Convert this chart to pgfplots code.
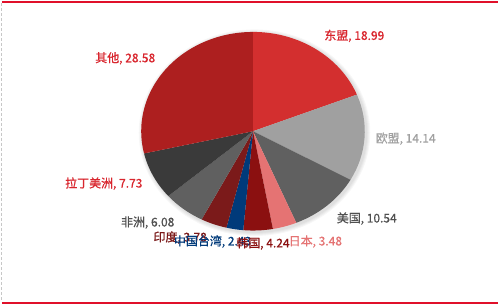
\documentclass[border=0pt]{standalone}
\usepackage{fontspec}
\setmainfont{Noto Sans CJK SC}
\newfontfamily\lab{Noto Sans CJK SC}[FakeBold=0.7]
\usepackage{pgfplots}
\pgfplotsset{compat=1.18}
\definecolor{cASEAN}{HTML}{D32F2F}
\definecolor{cEU}{HTML}{A0A0A0}
\definecolor{cUS}{HTML}{606060}
\definecolor{cJP}{HTML}{E57373}
\definecolor{cKR}{HTML}{8B1010}
\definecolor{cTW}{HTML}{003A7A}
\definecolor{cIN}{HTML}{7B1A1A}
\definecolor{cAF}{HTML}{606060}
\definecolor{cLA}{HTML}{3A3A3A}
\definecolor{cOT}{HTML}{AD1F1F}
\definecolor{lRed}{HTML}{D9262E}
\definecolor{lDark}{HTML}{505050}
\definecolor{frameRed}{HTML}{E0102A}
% slice: start (cumulative %), value (%), colour
\newcommand\slice[3]{%
  \fill[#3] (axis cs:253.5,173.5) --
    (axis cs:{253.5+112*cos(90-3.6*#1)},{173.5+99.5*sin(90-3.6*#1)})
    arc[start angle={90-3.6*#1}, delta angle={-3.6*#2}, x radius=112pt, y radius=99.5pt] -- cycle;}
\newcommand\shadow[1]{%
  \fill[black, opacity=0.03] (axis cs:255,172) ellipse [x radius=#1pt, y radius=#1pt-12.5pt];}
\begin{document}
\begin{tikzpicture}
\begin{axis}[x=1pt, y=1pt, xmin=0, xmax=499, ymin=0, ymax=305,
  hide axis, clip=false, scale only axis]
\fill[white] (axis cs:0,0) rectangle (axis cs:499,305);
% frame
\draw[frameRed, line width=2pt] (axis cs:2,303) -- (axis cs:499,303);
\draw[frameRed, line width=2pt] (axis cs:2,1.7) -- (axis cs:499,1.7);
\draw[black!22, line width=1pt, dash pattern=on 3pt off 2pt] (axis cs:1.5,302) -- (axis cs:1.5,3);
% soft shadow
\shadow{116}
\shadow{115}
\shadow{114}
\shadow{113}
% slices (values in %)
\slice{0}{18.99}{cASEAN}
\slice{18.99}{14.14}{cEU}
\slice{33.13}{10.54}{cUS}
\slice{43.67}{3.48}{cJP}
\slice{47.15}{4.24}{cKR}
\slice{51.39}{2.43}{cTW}
\slice{53.82}{3.78}{cIN}
\slice{57.60}{6.08}{cAF}
\slice{63.68}{7.73}{cLA}
\slice{71.41}{28.58}{cOT}
% labels
\begin{scope}[every node/.style={font=\lab\fontsize{12}{12}\selectfont, inner sep=0pt}]
\node[text=lRed] at (axis cs:355,269) {东盟, 18.99};
\node[text=cEU] at (axis cs:406.5,166) {欧盟, 14.14};
\node[text=lDark] at (axis cs:367.5,86) {美国, 10.54};
\node[text=cJP] at (axis cs:316,63) {日本, 3.48};
\node[text=cIN] at (axis cs:180.5,67) {印度, 3.78};
\node[text=cTW] at (axis cs:213,63) {中国台湾, 2.43};
\node[text=cKR] at (axis cs:263.5,61) {韩国, 4.24};
\node[text=lDark] at (axis cs:148,82) {非洲, 6.08};
\node[text=lRed] at (axis cs:104,121) {拉丁美洲, 7.73};
\node[text=lRed] at (axis cs:125.5,246.5) {其他, 28.58};
\end{scope}
\end{axis}
\end{tikzpicture}
\end{document}
